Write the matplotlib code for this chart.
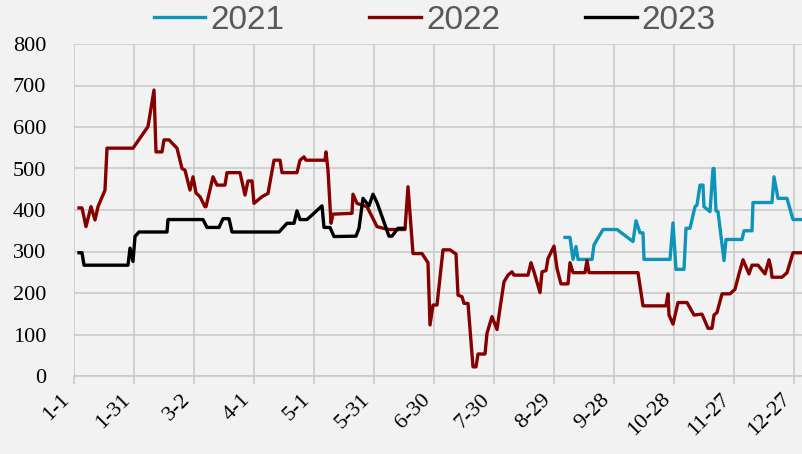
import matplotlib
matplotlib.use('Agg')
import matplotlib.pyplot as plt

# day-of-year positions and values
days_2021 = [246.5, 249, 250.5, 252, 253, 260, 261, 265.5, 272.5, 280.5, 282, 284, 285.5, 286,
             299, 300.5, 302, 306, 307, 309, 311.5, 312.5, 314, 315.5, 316, 319, 320.5, 321,
             322, 323, 326, 327, 335, 336, 340, 340.5, 350, 351, 353, 357.5, 360.5, 365]
vals_2021 = [334, 334, 281, 312, 281, 281, 316, 353, 353, 324, 374, 345, 345, 281,
             281, 369, 257, 257, 356, 356, 408, 412, 460, 460, 408, 396, 500, 500,
             398, 396, 278, 329, 329, 350, 350, 418, 418, 480, 428, 428, 377, 377]

days_2022 = [3.5, 5, 7, 9.5, 11.5, 13, 16.5, 17.5, 30.5, 38, 41, 42, 45, 46, 48.5, 52.5, 55,
             56.5, 59, 60.5, 62, 64, 66.5, 67, 70.5, 72.5, 76.5, 77.5, 84, 86.5, 88, 90, 91,
             95, 98, 101, 104, 105, 112.5, 114, 116, 117, 126.5, 127, 128, 129.5, 130.5,
             140, 140.5, 142.5, 147.5, 152.5, 158, 166.5, 168, 170.5, 175, 178, 179, 180.5,
             182.5, 185.5, 189, 192, 193, 195, 196, 198, 200.5, 202, 203, 206.5, 207.5,
             210, 212.5, 214, 216, 218, 220, 221, 228, 229.5, 231, 234, 235, 237, 238, 241,
             242.5, 244.5, 248, 249, 250.5, 256.5, 257.5, 258.5, 283, 284, 285.5, 297, 298,
             298.5, 300.5, 303, 307.5, 311, 315, 318, 320, 321, 322.5, 325, 329, 331.5,
             333.5, 335.5, 337, 338.5, 340, 343, 346.5, 348.5, 349.5, 350, 355, 357.5,
             360.5, 365]
vals_2022 = [405, 405, 360, 408, 376, 408, 448, 549, 549, 601, 689, 540, 540, 569, 569, 549, 500,
             496, 448, 480, 441, 432, 408, 408, 480, 460, 460, 490, 490, 436, 470, 470, 416,
             432, 440, 520, 520, 490, 490, 520, 528, 520, 520, 540, 496, 368, 390,
             392, 438, 416, 408, 360, 353, 353, 456, 295, 295, 273, 123, 171,
             171, 304, 304, 294, 195, 191, 175, 175, 22, 22, 53, 53, 103,
             143, 112, 163, 227, 243, 251, 243, 243, 273, 251, 201, 251, 254, 283, 313,
             259, 222, 222, 273, 249, 249, 278, 249, 249, 217, 169, 169, 198,
             147, 125, 177, 177, 147, 149, 115, 115, 147, 153, 198, 198, 209,
             246, 280, 263, 246, 267, 267, 246, 280, 259, 238, 238, 249,
             297, 297]

days_2023 = [3.5, 5, 6, 28, 29, 30.5, 31.5, 33.5, 47.5, 48, 65.5, 67.5, 73.5, 75.5, 78.5, 80,
             103.5, 107.5, 111, 112.5, 114, 117.5, 125, 126, 129, 131, 142, 143.5, 145.5,
             148.5, 150.5, 152.5, 158.5, 160, 163, 166]
vals_2023 = [297, 297, 267, 267, 308, 276, 336, 347, 347, 377, 377, 358, 358, 379, 379, 347,
             347, 368, 368, 398, 377, 377, 410, 358, 358, 336, 337, 356, 428,
             410, 438, 418, 337, 337, 356, 356]

tick_days = [1, 31, 61, 91, 121, 151, 181, 211, 241, 271, 301, 331, 361]
tick_labels = ['1-1', '1-31', '3-2', '4-1', '5-1', '5-31', '6-30', '7-30', '8-29',
               '9-28', '10-28', '11-27', '12-27']

bg = '#f2f2f2'
grid_c = '#c8c8c8'

fig = plt.figure(figsize=(8.02, 4.54), dpi=100, facecolor=bg)
ax = fig.add_axes([74 / 802, 78 / 454, 728 / 802, 332 / 454], facecolor=bg)

ax.plot(days_2021, vals_2021, color='#0e94b8', lw=2.4, label='2021')
ax.plot(days_2022, vals_2022, color='#870000', lw=2.4, label='2022')
ax.plot(days_2023, vals_2023, color='black', lw=2.4, label='2023')

ax.set_xlim(1, 365)
ax.set_ylim(0, 800)
ax.set_yticks(range(0, 801, 100))
ax.set_xticks(tick_days)
ax.set_xticklabels(tick_labels, rotation=45, ha='right', va='top',
                   family='Liberation Serif', fontsize=16)
for lbl in ax.get_yticklabels():
    lbl.set_family('Liberation Serif')
    lbl.set_fontsize(16)

ax.grid(True, color=grid_c, lw=1.1)
ax.set_axisbelow(True)
for s in ['top', 'right', 'left']:
    ax.spines[s].set_visible(False)
ax.spines['bottom'].set_color(grid_c)
ax.spines['bottom'].set_linewidth(1.1)
ax.tick_params(axis='y', length=0, pad=20)
ax.tick_params(axis='x', length=6, color=grid_c, width=1.1, pad=4)

leg = fig.legend(loc='center', bbox_to_anchor=(0.542, 0.955), ncol=3, frameon=False,
                 handlelength=1.55, handletextpad=0.15, columnspacing=2.55,
                 prop={'family': 'Liberation Sans', 'size': 24})
for t in leg.get_texts():
    t.set_color('#595959')

fig.savefig('out.png', dpi=100, facecolor=bg)
